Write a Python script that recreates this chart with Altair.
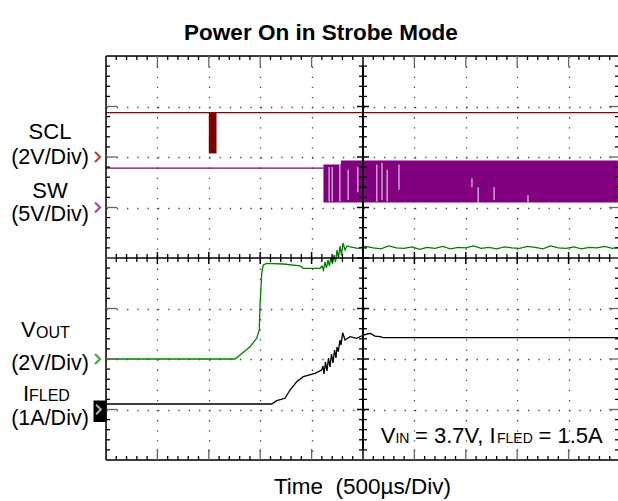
import altair as alt
import pandas as pd

# ---------------- data (time and amplitude in screen divisions: 500 us/div) -------------
scl_t = [0.0, 9.96]
scl_v = [6.88, 6.88]
scl_burst_t = [2.00, 2.15]
scl_burst_v = [6.07, 6.88]

sw_idle_t = [0.0, 4.23]
sw_idle_v = [5.78, 5.78]
sw_band_t = [4.23, 4.57, 4.57, 9.96]
sw_band_hi = [5.85, 5.85, 5.93, 5.93]
sw_band_lo = [5.10, 5.10, 5.10, 5.10]
sw_gap_t = [4.34, 4.40, 4.55, 4.71, 4.90, 5.27, 5.37, 5.47, 5.70, 7.12, 7.24, 7.55, 8.21]
sw_gap_lo = [5.12, 5.12, 5.12, 5.15, 5.30, 5.12, 5.15, 5.12, 5.35, 5.40, 5.10, 5.15, 5.10]
sw_gap_hi = [5.80, 5.80, 5.85, 5.75, 5.80, 5.85, 5.88, 5.75, 5.85, 5.58, 5.40, 5.40, 5.25]

vout_t = [0.0, 2.51, 2.607, 2.802, 2.932, 2.982, 2.996, 3.029, 3.060, 3.126, 3.449, 3.774,
          3.839, 4.163, 4.202, 4.232, 4.261, 4.290, 4.319, 4.348, 4.377, 4.407, 4.436, 4.465,
          4.494, 4.523, 4.553, 4.582, 4.611, 4.650, 4.689,
          4.75, 4.9, 5.05, 5.2, 5.35, 5.5, 5.65, 5.8, 5.95, 6.1, 6.25, 6.4, 6.55, 6.7, 6.85,
          7.0, 7.15, 7.3, 7.45, 7.6, 7.75, 7.9, 8.05, 8.2, 8.35, 8.5, 8.65, 8.8, 8.95, 9.1,
          9.25, 9.4, 9.55, 9.7, 9.85, 9.96]
vout_v = [2.0, 2.0, 2.079, 2.244, 2.410, 2.574, 3.036, 3.697, 3.861, 3.895, 3.881, 3.842,
          3.796, 3.796, 3.842, 3.762, 3.921, 3.802, 3.960, 3.842, 4.020, 3.881, 4.059, 3.921,
          4.158, 4.000, 4.238, 4.059, 4.297, 4.158, 4.238,
          4.22, 4.19, 4.23, 4.20, 4.18, 4.24, 4.20, 4.19, 4.22, 4.17, 4.21, 4.19, 4.23, 4.18,
          4.21, 4.20, 4.24, 4.19, 4.21, 4.18, 4.22, 4.20, 4.19, 4.23, 4.21, 4.18, 4.24, 4.20,
          4.19, 4.22, 4.18, 4.21, 4.20, 4.23, 4.19, 4.21]

ifled_t = [0.0, 3.224, 3.321, 3.482, 3.580, 3.710, 3.839, 4.066, 4.196, 4.222, 4.241, 4.270,
           4.300, 4.329, 4.358, 4.387, 4.416, 4.446, 4.475, 4.494, 4.519, 4.553, 4.572, 4.605,
           4.650, 4.747, 4.877, 5.006, 5.136, 5.233, 5.331, 5.395, 9.96]
ifled_v = [1.109, 1.109, 1.174, 1.222, 1.386, 1.550, 1.650, 1.717, 1.782, 1.861, 1.703, 1.941,
           1.762, 2.020, 1.842, 2.099, 1.921, 2.178, 2.020, 2.238, 2.145, 2.376, 2.277, 2.521,
           2.376, 2.442, 2.410, 2.475, 2.509, 2.455, 2.442, 2.422, 2.422]

# reference level markers (divisions)
ref_scl, ref_sw, ref_vout, ref_ifled = 6.0, 5.0, 2.0, 1.0

title_text = "Power On in Strobe Mode"
xlabel_text = "Time\u00a0 (500\u00b5s/Div)"

# ---------------- layout ----------------
W, H = 512, 404
FONT = "Liberation Sans"
XS = alt.Scale(domain=[0, 9.961], nice=False, zero=False)
YS = alt.Scale(domain=[0, 8], nice=False, zero=False)
AXX = alt.Axis(values=[1, 2, 3, 4, 6, 7, 8, 9], grid=True, gridDash=[1.3, 8.8], gridColor="#444",
               gridWidth=1.3, labels=False, ticks=False, domain=False, title=None)
AXY = alt.Axis(values=[1, 2, 3, 5, 6, 7], grid=True, gridDash=[1.3, 8.98], gridColor="#444",
               gridWidth=1.3, labels=False, ticks=False, domain=False, title=None)


def X(f):
    return alt.X(f, type="quantitative", scale=XS, axis=AXX)


def Y(f):
    return alt.Y(f, type="quantitative", scale=YS, axis=AXY)


one = pd.DataFrame({"a": [0]})

minor_x = [round(i * 0.2, 2) for i in range(1, 50) if i % 5]
major_x = [1, 2, 3, 4, 5, 6, 7, 8, 9]
minor_y = [round(i * 0.2, 2) for i in range(1, 40) if i % 5]
major_y = [1, 2, 3, 4, 5, 6, 7]

dmx = pd.DataFrame({"t": minor_x})
dMx = pd.DataFrame({"t": major_x})
dmy = pd.DataFrame({"v": minor_y})
dMy = pd.DataFrame({"v": major_y})

layers = []
# grid carrier (invisible)
layers.append(alt.Chart(pd.DataFrame({"t": [0.0], "v": [0.0]})).mark_point(opacity=0)
              .encode(x=X("t"), y=Y("v")))

# traces
layers.append(alt.Chart(pd.DataFrame({"t": scl_t, "v": scl_v})).mark_line(color="#8b0000", strokeWidth=1.3)
              .encode(x=X("t"), y=Y("v")))
layers.append(alt.Chart(pd.DataFrame({"t0": [scl_burst_t[0]], "t1": [scl_burst_t[1]],
                                      "v0": [scl_burst_v[0]], "v1": [scl_burst_v[1]]}))
              .mark_rect(color="#800000").encode(x=X("t0"), x2="t1", y=Y("v0"), y2="v1"))
layers.append(alt.Chart(pd.DataFrame({"t": sw_idle_t, "v": sw_idle_v})).mark_line(color="#800080", strokeWidth=1.3)
              .encode(x=X("t"), y=Y("v")))
layers.append(alt.Chart(pd.DataFrame({"t": sw_band_t, "hi": sw_band_hi, "lo": sw_band_lo}))
              .mark_area(color="#800080", opacity=1).encode(x=X("t"), y=Y("hi"), y2="lo"))
layers.append(alt.Chart(pd.DataFrame({"t": sw_gap_t, "lo": sw_gap_lo, "hi": sw_gap_hi}))
              .mark_rule(color="white", strokeWidth=1.1, opacity=0.85).encode(x=X("t"), y=Y("lo"), y2="hi"))
layers.append(alt.Chart(pd.DataFrame({"t": vout_t, "v": vout_v})).mark_line(color="#008000", strokeWidth=1.3)
              .encode(x=X("t"), y=Y("v")))
layers.append(alt.Chart(pd.DataFrame({"t": ifled_t, "v": ifled_v})).mark_line(color="black", strokeWidth=1.3)
              .encode(x=X("t"), y=Y("v")))

# frame
layers.append(alt.Chart(one).mark_rule(color="black", strokeWidth=1.5)
              .encode(x=alt.value(0), x2=alt.value(W), y=alt.value(0)))
layers.append(alt.Chart(one).mark_rule(color="black", strokeWidth=1.5)
              .encode(x=alt.value(0), x2=alt.value(W), y=alt.value(H)))
layers.append(alt.Chart(one).mark_rule(color="black", strokeWidth=1.5)
              .encode(x=alt.value(0), y=alt.value(0), y2=alt.value(H)))
# centre axes
layers.append(alt.Chart(one).mark_rule(color="black", strokeWidth=2)
              .encode(x=alt.value(257), y=alt.value(0), y2=alt.value(H)))
layers.append(alt.Chart(one).mark_rule(color="black", strokeWidth=1.5)
              .encode(x=alt.value(0), x2=alt.value(W), y=alt.value(202)))

# frame ticks
for df, y0, y1, col in [(dmx, 0, 4, "black"), (dMx, 0, 11, "#666"), (dmx, 400, 404, "black"), (dMx, 393, 404, "#666")]:
    layers.append(alt.Chart(df).mark_rule(color=col, strokeWidth=1.3)
                  .encode(x=X("t"), y=alt.value(y0), y2=alt.value(y1)))
for df, x0, x1, col in [(dmy, 0, 4, "black"), (dMy, 0, 11, "#666"), (dmy, 509, 514, "black"), (dMy, 503, 514, "#666")]:
    layers.append(alt.Chart(df).mark_rule(color=col, strokeWidth=1.3)
                  .encode(y=Y("v"), x=alt.value(x0), x2=alt.value(x1)))
# centre ticks
layers.append(alt.Chart(dmx).mark_rule(color="black", strokeWidth=1.3)
              .encode(x=X("t"), y=alt.value(198), y2=alt.value(206)))
layers.append(alt.Chart(dMx).mark_rule(color="black", strokeWidth=1.5)
              .encode(x=X("t"), y=alt.value(196), y2=alt.value(208)))
layers.append(alt.Chart(dmy).mark_rule(color="black", strokeWidth=1.3)
              .encode(y=Y("v"), x=alt.value(253), x2=alt.value(261)))
layers.append(alt.Chart(dMy).mark_rule(color="black", strokeWidth=1.5)
              .encode(y=Y("v"), x=alt.value(251), x2=alt.value(263)))

# reference markers
CHEV = "M -0.5 -1 L 0.5 0 L -0.5 1"
for lvl, col in [(ref_scl, "#8b0000"), (ref_sw, "#800080"), (ref_vout, "#008000")]:
    layers.append(alt.Chart(one).mark_point(shape=CHEV, filled=False, color=col, strokeWidth=2.2, size=100)
                  .encode(x=alt.value(-8.5), y=alt.datum(lvl, scale=YS)))
layers.append(alt.Chart(one).mark_rect(color="black")
              .encode(x=alt.value(-12.5), x2=alt.value(0.5), y=alt.value(344.5), y2=alt.value(366)))
layers.append(alt.Chart(one).mark_point(shape=CHEV, filled=False, color="white", strokeWidth=2, size=90)
              .encode(x=alt.value(-7.5), y=alt.datum(ref_ifled, scale=YS)))


def txt(s, x, y, size=22, align="center", weight="normal", color="black"):
    return alt.Chart(one).mark_text(text=s, font=FONT, fontSize=size, align=align, baseline="alphabetic",
                                    fontWeight=weight, color=color).encode(x=alt.value(x), y=alt.value(y))


OX, OY = 106, 56  # plot origin in page pixels
layers.append(txt(title_text, 321 - OX, 40 - OY, size=22.5, weight="bold"))
layers.append(txt(xlabel_text, 362.5 - OX, 494 - OY, size=22.5))
layers.append(txt("SCL", 50 - OX, 139 - OY))
layers.append(txt("(2V/Div)", 50 - OX, 164 - OY, size=21.5))
layers.append(txt("SW", 50 - OX, 198 - OY))
layers.append(txt("(5V/Div)", 50 - OX, 221 - OY, size=21.5))
layers.append(txt("V", 21 - OX, 337 - OY, align="left"))
layers.append(txt("OUT", 36 - OX, 338 - OY, size=16, align="left"))
layers.append(txt("(2V/Div)", 50 - OX, 370 - OY, size=21.5))
layers.append(txt("I", 23 - OX, 401 - OY, align="left"))
layers.append(txt("FLED", 29 - OX, 401 - OY, size=16, align="left"))
layers.append(txt("(1A/Div)", 50 - OX, 425 - OY, size=21.5))
# annotation
layers.append(txt("V", 380.7 - OX, 443 - OY, align="left"))
layers.append(txt("IN", 395.4 - OX, 443 - OY, size=14, align="left"))
layers.append(txt("= 3.7V, I", 415 - OX, 443 - OY, align="left"))
layers.append(txt("FLED", 497 - OX, 443 - OY, size=14, align="left"))
layers.append(txt("= 1.5A", 538.5 - OX, 443 - OY, align="left"))

chart = alt.layer(*layers).properties(
    width=W, height=H,
    padding={"left": OX, "top": OY, "right": 0, "bottom": 501 - OY - H},
    autosize=alt.AutoSizeParams(type="none"),
).configure_view(stroke=None).configure(background="white")

chart.save("out.html", embed_options={"renderer": "svg", "actions": False})
